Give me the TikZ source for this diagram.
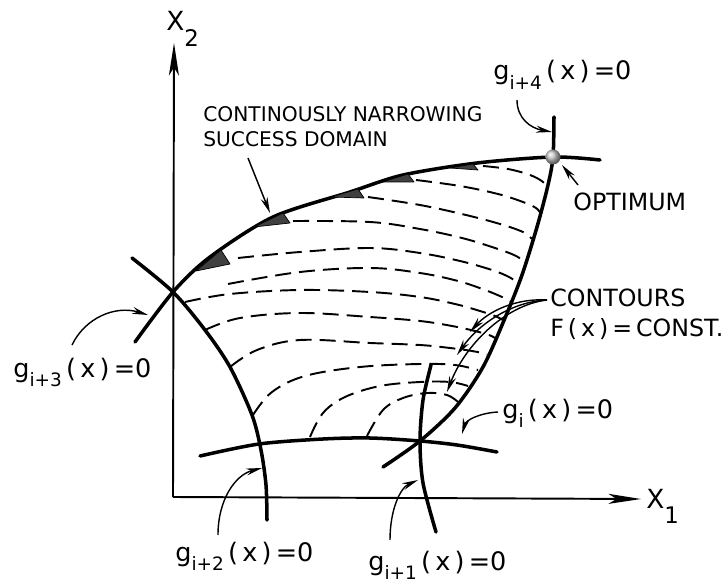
\documentclass[tikz,border=0pt]{standalone}
\usepackage{fontspec}
\setmainfont{DejaVu Sans}
\usetikzlibrary{arrows.meta}

\newcommand{\lowsub}[1]{\raisebox{-0.7ex}{\fontsize{10.5}{11}\selectfont #1}}
\newcommand{\axsub}[1]{\raisebox{-1.1ex}{\fontsize{13}{13}\selectfont #1}}
\newcommand{\gzero}[1]{g\lowsub{#1}\,(\,x\,)\,=0}

\begin{document}
\begin{tikzpicture}[x=0.2mm, y=-0.2mm,
  axis/.style={line width=1.1pt, -{Stealth[length=6.5mm, width=2mm, inset=1.6mm]}},
  constr/.style={line width=2pt, line cap=round},
  contour/.style={line width=1.1pt, dash pattern=on 3.2mm off 1.6mm},
  pointer/.style={line width=0.8pt, -{Stealth[length=3.2mm, width=1.4mm]}},
  wedge/.style={fill=black!75, draw=black, line width=0.4pt, line join=round},
  lbl/.style={font=\fontsize{14.5}{16}\selectfont, anchor=base west, inner sep=0pt},
  note/.style={align=left, anchor=north west, inner sep=0pt}
]
\useasboundingbox (0,0) rectangle (728,584);

%% Axes
\coordinate (o) at (173,497);
\coordinate (x1end) at (641,499);
\coordinate (x2end) at (174,43);
\draw[axis] (o) -- (x1end);
\draw[axis] (o) -- (x2end);
\node[lbl, font=\fontsize{15}{16}\selectfont] (x1lbl) at (646,508) {X\axsub{1}};
\node[lbl, font=\fontsize{15}{16}\selectfont] (x2lbl) at (166,31) {X\axsub{2}};

%% Constraint curves
\draw[constr] plot[smooth] coordinates {(135,342) (173,292) (210,257) (273,217) (350,192) (403,175) (477,163) (553,157) (600,160)};
\draw[constr] plot[smooth] coordinates {(132,258) (173,292) (205,330) (230,367) (252,415) (261,450) (266,485) (267,520)};
\draw[constr] plot[smooth] coordinates {(200,456) (259,444) (323,439) (370,438) (420,441) (457,445) (497,452)};
\draw[constr] plot[smooth] coordinates {(431,365) (423,400) (420,441) (423,483) (436,532)};
\draw[constr] plot[smooth] coordinates {(554,117) (553,157) (548,185) (537,227) (522,275) (505,318) (483,367) (455,408) (420,441) (383,467)};

%% Wedges on the narrowing boundary
\filldraw[wedge] (196,271) -- (221,250) -- (230,264) -- cycle;
\filldraw[wedge] (254,227) -- (283,213) -- (290,223) -- cycle;
\filldraw[wedge] (331,197) -- (358,189) -- (364,198) -- cycle;
\filldraw[wedge] (382,182) -- (408,174) -- (414,182) -- cycle;
\filldraw[wedge] (450,168) -- (473,164) -- (478,170) -- cycle;

%% Contours F(x) = const.
\draw[contour] plot[smooth, tension=0.6] coordinates {(483,166) (508,169) (530,175) (543,182) (547,189)};
\draw[contour] plot[smooth, tension=0.6] coordinates {(416,180) (460,186) (498,194) (523,202) (536,208) (541,214)};
\draw[contour] plot[smooth, tension=0.6] coordinates {(368,197) (420,205) (466,215) (500,224) (523,232) (532,239)};
\draw[contour] plot[smooth, tension=0.6] coordinates {(293,221) (370,222) (420,229) (462,238) (495,248) (514,255) (524,261)};
\draw[contour] plot[smooth, tension=0.6] coordinates {(238,258) (300,252) (370,248) (420,253) (460,261) (492,270) (509,277) (518,283)};
\draw[contour] plot[smooth, tension=0.6] coordinates {(228,284) (300,272) (370,268) (420,273) (458,281) (485,290) (502,297) (511,302)};
\draw[contour] plot[smooth, tension=0.6] coordinates {(185,302) (230,294) (300,290) (370,292) (420,297) (455,304) (480,311) (495,316) (503,320)};
\draw[contour] plot[smooth, tension=0.6] coordinates {(205,330) (240,318) (300,313) (370,317) (420,321) (452,326) (475,331) (489,335) (495,338)};
\draw[contour] plot[smooth, tension=0.6] coordinates {(230,367) (257,350) (300,340) (370,343) (420,345) (450,348) (472,351) (487,354)};
\draw[contour] plot[smooth, tension=0.6] coordinates {(253,415) (272,392) (305,376) (360,367) (420,364) (455,365) (478,370)};
\draw[contour] plot[smooth, tension=0.6] coordinates {(310,437) (323,413) (345,397) (380,386) (420,382) (450,382) (468,386)};
\draw[contour] plot[smooth, tension=0.6] coordinates {(367,436) (383,410) (403,398) (427,393) (447,395) (458,402)};

%% Optimum
\coordinate (opt) at (553,157);
\shade[ball color=gray!45] (opt) circle[radius=1.5mm];

%% Labels
\node[note, font=\fontsize{11.5}{14.4}\selectfont] (narrowlbl) at (203,106) {CONTINOUSLY NARROWING\\SUCCESS DOMAIN};
\node[note, font=\fontsize{13.5}{17}\selectfont] (contourlbl) at (550,289) {CONTOURS\\F\,(\,x\,)\,=\,CONST.};
\node[lbl, font=\fontsize{13.5}{15}\selectfont] (optlbl) at (573,210) {OPTIMUM};
\node[lbl] (g4lbl) at (493,80) {\gzero{i+4}};
\node[lbl] (g3lbl) at (13,377) {\gzero{i+3}};
\node[lbl] (g2lbl) at (175,561) {\gzero{i+2}};
\node[lbl] (g1lbl) at (368,570) {\gzero{i+1}};
\node[lbl] (g0lbl) at (502,418) {\gzero{i}};

%% Pointers
\coordinate (narrowtail) at (248,158);
\coordinate (narrowtip) at (270,213);
\coordinate (opttail) at (578,185);
\coordinate (opttip) at (562,165);
\coordinate (contourtail) at (547,300);
\draw[pointer] (narrowtail) -- (narrowtip);
\draw[pointer] (opttail) -- (opttip);
\draw[pointer] (517,100) .. controls (517,118) and (530,128) .. (552,132);
\draw[pointer] (contourtail) .. controls (515,298) and (488,312) .. (470,332);
\draw[pointer] (contourtail) .. controls (510,302) and (478,325) .. (457,355);
\draw[pointer] (contourtail) .. controls (505,305) and (465,345) .. (447,392);
\draw[pointer] (498,412) .. controls (480,413) and (466,420) .. (462,434);
\draw[pointer] (72,345) .. controls (85,318) and (115,305) .. (148,315);
\draw[pointer] (218,535) .. controls (218,500) and (235,475) .. (262,468);
\draw[pointer] (390,540) .. controls (390,510) and (400,488) .. (418,480);

\end{tikzpicture}
\end{document}
